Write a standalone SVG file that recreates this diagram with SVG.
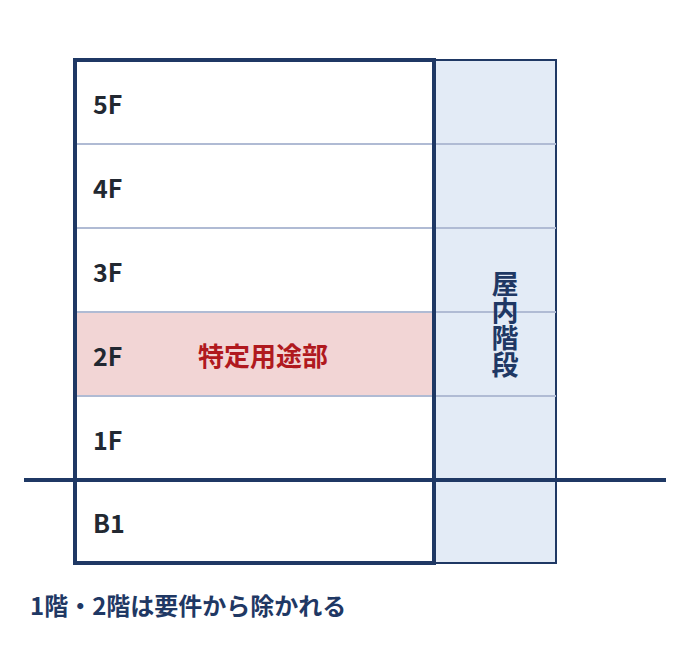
<svg xmlns="http://www.w3.org/2000/svg" width="690" height="645" viewBox="0 0 690 645">
<style>
.fl{font-family:"Noto Sans CJK JP","Noto Sans",sans-serif;font-weight:bold;font-size:25px;fill:#222831}
.div{stroke:#b0bbd4;stroke-width:2}
.navy{fill:#1f3864}
</style>
<rect width="690" height="645" fill="#ffffff"/>
<g id="stairs">
<rect x="434" y="60" width="122" height="503" fill="#e3ebf6" stroke="#1f3864" stroke-width="2"/>
</g>
<g id="floor-2F-bg">
<rect x="75" y="312" width="359" height="84" fill="#f2d5d5"/>
</g>
<g id="dividers">
<line class="div" x1="75" y1="144" x2="556" y2="144"/>
<line class="div" x1="75" y1="228" x2="556" y2="228"/>
<line class="div" x1="75" y1="312" x2="556" y2="312"/>
<line class="div" x1="75" y1="396" x2="556" y2="396"/>
</g>
<g id="building">
<rect x="75" y="60" width="359" height="503" fill="none" stroke="#1f3864" stroke-width="4"/>
</g>
<g id="ground">
<line x1="24" y1="480" x2="666" y2="480" stroke="#1f3864" stroke-width="4"/>
</g>
<g id="labels">
<text class="fl" x="93" y="114">5F</text>
<text class="fl" x="93" y="198">4F</text>
<text class="fl" x="93" y="282">3F</text>
<text class="fl" x="93" y="366">2F</text>
<text class="fl" x="93" y="450">1F</text>
<text class="fl" x="93" y="533">B1</text>
<text x="263" y="366" text-anchor="middle" style="font-family:'Noto Sans CJK JP',sans-serif;font-weight:bold;font-size:26px;fill:#b0191e">特定用途部</text>
<text x="505" y="324" writing-mode="tb" text-anchor="middle" class="navy" style="font-family:'Noto Sans CJK JP',sans-serif;font-weight:bold;font-size:27px">屋内階段</text>
<text x="30" y="615" class="navy" style="font-family:'Noto Sans CJK JP',sans-serif;font-weight:bold;font-size:24px">1階・2階は要件から除かれる</text>
</g>
</svg>
